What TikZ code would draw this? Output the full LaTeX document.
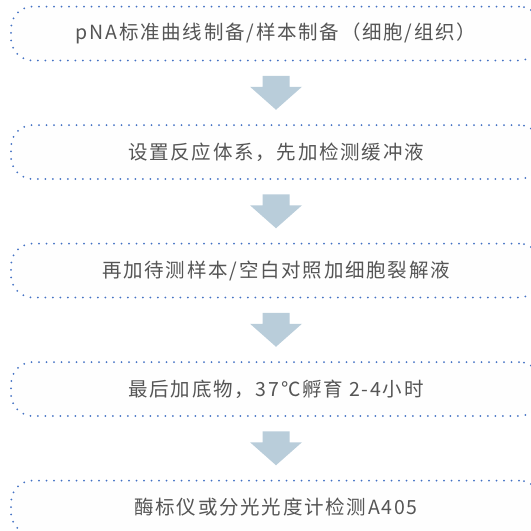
\documentclass[tikz,border=0pt]{standalone}
\usepackage{fontspec}
\setmainfont[LetterSpace=9]{Noto Sans CJK SC}
\usetikzlibrary{calc}

\definecolor{dotblue}{HTML}{4472C4}
\definecolor{arrowgray}{HTML}{B9CDDA}
\definecolor{textgray}{HTML}{555555}

\begin{document}
\begin{tikzpicture}[x=1pt,y=-1pt]
  % Styles
  \tikzstyle{stepbox}=[draw=dotblue,fill=gray!1,line width=2pt,line cap=round,
    dash pattern=on 0pt off 7.5pt,rounded corners=22pt,
    minimum width=530pt,minimum height=54pt,inner sep=0pt,
    text=textgray,font=\fontsize{19.5}{22}\selectfont]
  \tikzstyle{flow arrow}=[fill=arrowgray,draw=none]

  \useasboundingbox (0,0) rectangle (531,531);

  % Boxes
  \node[stepbox] (prep) at (276,33.5) {pNA标准曲线制备/样本制备（细胞/组织）};
  \node[stepbox] (system) at (276,152) {设置反应体系，先加检测缓冲液};
  \node[stepbox] (sample) at (276,270.5) {再加待测样本/空白对照加细胞裂解液};
  \node[stepbox] (substrate) at (276,389) {最后加底物，37℃孵育 2-4小时};
  \node[stepbox] (read) at (276,507.5) {酶标仪或分光光度计检测A405};

  % Arrows
  \def\blockarrow#1#2{%
    \fill[flow arrow] ($(#1.south)!0.5!(#2.north)$)
      ++(-13.5,-17) -- ++(27,0) -- ++(0,11) -- ++(12.5,0)
      -- ++(-26,23) -- ++(-26,-23) -- ++(12.5,0) -- cycle;}
  \blockarrow{prep}{system}
  \blockarrow{system}{sample}
  \blockarrow{sample}{substrate}
  \blockarrow{substrate}{read}

\end{tikzpicture}
\end{document}
